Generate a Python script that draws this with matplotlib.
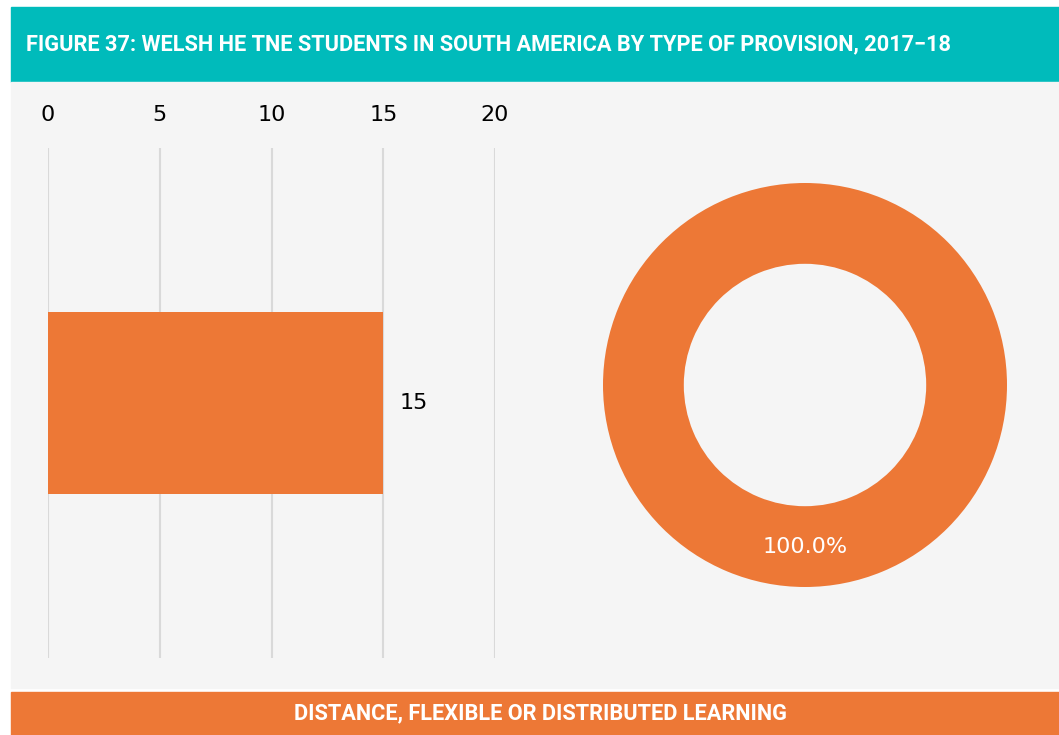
import matplotlib.pyplot as plt
from matplotlib.patches import Rectangle

# data
title = "FIGURE 37: WELSH HE TNE STUDENTS IN SOUTH AMERICA BY TYPE OF PROVISION, 2017\u221218"
categories = ["Distance, flexible or distributed learning"]
values = [15]
shares = [100.0]
ticks = [0, 5, 10, 15, 20]
footer = "DISTANCE, FLEXIBLE OR DISTRIBUTED LEARNING"

TEAL = "#00BBBB"
ORANGE = "#ED7836"
BG = "#F5F5F5"
GRID = "#D9D9D9"

W, H = 1059, 735
fig = plt.figure(figsize=(W / 100, H / 100), dpi=100)
fig.patch.set_facecolor("white")

def fx(px):
    return px / W

def fy(py):
    return 1 - py / H

# background panels
for (x0, y0, w, h, c) in [(11, 82, 1048, 75, TEAL), (11, 688, 1048, 606, BG), (11, 735, 1048, 43, ORANGE)]:
    fig.patches.append(Rectangle((fx(x0), fy(y0)), w / W, h / H, transform=fig.transFigure,
                                 color=c, zorder=-10))

bold = ["Roboto", "DejaVu Sans"]
fig.text(fx(26), fy(44), title, color="white", fontsize=15.7, fontweight="bold",
         family=bold, va="center", ha="left")
fig.text(fx(540), fy(713), footer, color="white", fontsize=15.7, fontweight="bold",
         family=bold, va="center", ha="center")

# bar chart
ax = fig.add_axes([fx(48), fy(658), fx(495 - 48), (658 - 148) / H])
ax.set_facecolor("none")
ax.barh([0], values, height=0.357, color=ORANGE, zorder=2)
ax.set_xlim(0, 20)
ax.set_ylim(-0.5, 0.5)
for t in ticks:
    ax.axvline(t, color=GRID, lw=1.5, zorder=1)
    ax.text(t, 1 + 33 / 510, str(t), transform=ax.get_xaxis_transform(), ha="center", va="center",
            fontsize=16, color="black", clip_on=False)
for v, y in zip(values, [0]):
    ax.text(v + 0.75, y, str(v), va="center", ha="left", fontsize=16, color="black")
ax.set_xticks([])
ax.set_yticks([])
for s in ax.spines.values():
    s.set_visible(False)

# donut
ax2 = fig.add_axes([fx(603), fy(587), fx(404), 404 / H])
ax2.pie(shares, colors=[ORANGE], startangle=90, radius=1, counterclock=True,
        wedgeprops=dict(width=0.4, edgecolor="none"),
        autopct="%.1f%%", pctdistance=0.8,
        textprops=dict(color="white", fontsize=16))
ax2.set_xlim(-1, 1)
ax2.set_ylim(-1, 1)
ax2.set_aspect("equal")
ax2.axis("off")

plt.savefig("out.png", dpi=100, facecolor="white")
